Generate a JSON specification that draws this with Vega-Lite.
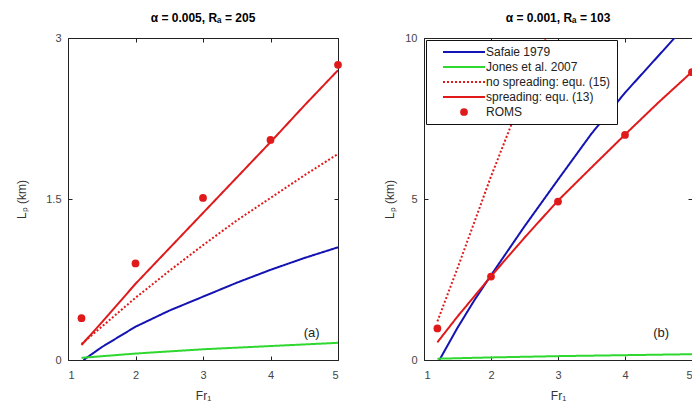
{
  "$schema": "https://vega.github.io/schema/vega-lite/v6.json",
  "padding": {"left": 15, "top": 12, "right": 0, "bottom": 4},
  "bounds": "flush",
  "spacing": 86,
  "resolve": {
    "scale": {"color": "independent", "strokeDash": "independent"},
    "legend": {"color": "independent", "strokeDash": "independent"}
  },
  "config": {
    "font": "Liberation Sans",
    "view": {"stroke": null},
    "title": {"font": "Liberation Sans", "fontSize": 12, "fontWeight": "bold", "color": "black", "offset": 7},
    "axis": {
      "grid": false,
      "domainColor": "#222",
      "domainWidth": 1,
      "tickColor": "#222",
      "tickSize": -4,
      "labelFont": "Liberation Sans",
      "labelFontSize": 11,
      "labelColor": "#444",
      "titleFont": "Liberation Sans",
      "titleFontSize": 12,
      "titleFontWeight": "normal",
      "titleColor": "#333"
    }
  },
  "datasets": {
    "curves": [
      {"panel": "a", "series": "Safaie 1979", "x": 1.23, "y": 0},
      {"panel": "a", "series": "Safaie 1979", "x": 1.5, "y": 0.12},
      {"panel": "a", "series": "Safaie 1979", "x": 2, "y": 0.31},
      {"panel": "a", "series": "Safaie 1979", "x": 2.5, "y": 0.46},
      {"panel": "a", "series": "Safaie 1979", "x": 3, "y": 0.59},
      {"panel": "a", "series": "Safaie 1979", "x": 3.5, "y": 0.72},
      {"panel": "a", "series": "Safaie 1979", "x": 4, "y": 0.84},
      {"panel": "a", "series": "Safaie 1979", "x": 4.5, "y": 0.95},
      {"panel": "a", "series": "Safaie 1979", "x": 5, "y": 1.05},
      {"panel": "a", "series": "Jones et al. 2007", "x": 1.2, "y": 0.02},
      {"panel": "a", "series": "Jones et al. 2007", "x": 2, "y": 0.06},
      {"panel": "a", "series": "Jones et al. 2007", "x": 3, "y": 0.1},
      {"panel": "a", "series": "Jones et al. 2007", "x": 4, "y": 0.13},
      {"panel": "a", "series": "Jones et al. 2007", "x": 5, "y": 0.16},
      {"panel": "a", "series": "no spreading: equ. (15)", "x": 1.2, "y": 0.15},
      {"panel": "a", "series": "no spreading: equ. (15)", "x": 1.5, "y": 0.31},
      {"panel": "a", "series": "no spreading: equ. (15)", "x": 2, "y": 0.58},
      {"panel": "a", "series": "no spreading: equ. (15)", "x": 2.5, "y": 0.83},
      {"panel": "a", "series": "no spreading: equ. (15)", "x": 3, "y": 1.07},
      {"panel": "a", "series": "no spreading: equ. (15)", "x": 3.5, "y": 1.3},
      {"panel": "a", "series": "no spreading: equ. (15)", "x": 4, "y": 1.51},
      {"panel": "a", "series": "no spreading: equ. (15)", "x": 4.5, "y": 1.72},
      {"panel": "a", "series": "no spreading: equ. (15)", "x": 5, "y": 1.92},
      {"panel": "a", "series": "spreading: equ. (13)", "x": 1.2, "y": 0.14},
      {"panel": "a", "series": "spreading: equ. (13)", "x": 1.5, "y": 0.35},
      {"panel": "a", "series": "spreading: equ. (13)", "x": 2, "y": 0.71},
      {"panel": "a", "series": "spreading: equ. (13)", "x": 2.5, "y": 1.04},
      {"panel": "a", "series": "spreading: equ. (13)", "x": 3, "y": 1.37},
      {"panel": "a", "series": "spreading: equ. (13)", "x": 3.5, "y": 1.7},
      {"panel": "a", "series": "spreading: equ. (13)", "x": 4, "y": 2.03},
      {"panel": "a", "series": "spreading: equ. (13)", "x": 4.5, "y": 2.37},
      {"panel": "a", "series": "spreading: equ. (13)", "x": 5, "y": 2.7},
      {"panel": "a", "series": "ROMS", "x": 1.2, "y": 0.39},
      {"panel": "a", "series": "ROMS", "x": 2, "y": 0.9},
      {"panel": "a", "series": "ROMS", "x": 3, "y": 1.51},
      {"panel": "a", "series": "ROMS", "x": 4, "y": 2.05},
      {"panel": "a", "series": "ROMS", "x": 5, "y": 2.75},
      {"panel": "b", "series": "Safaie 1979", "x": 1.23, "y": 0},
      {"panel": "b", "series": "Safaie 1979", "x": 1.5, "y": 1.0},
      {"panel": "b", "series": "Safaie 1979", "x": 1.75, "y": 1.85},
      {"panel": "b", "series": "Safaie 1979", "x": 2, "y": 2.63},
      {"panel": "b", "series": "Safaie 1979", "x": 2.5, "y": 4.15},
      {"panel": "b", "series": "Safaie 1979", "x": 3, "y": 5.6},
      {"panel": "b", "series": "Safaie 1979", "x": 3.5, "y": 7.03},
      {"panel": "b", "series": "Safaie 1979", "x": 4, "y": 8.3},
      {"panel": "b", "series": "Safaie 1979", "x": 4.5, "y": 9.45},
      {"panel": "b", "series": "Safaie 1979", "x": 5, "y": 10.6},
      {"panel": "b", "series": "Jones et al. 2007", "x": 1.2, "y": 0.04},
      {"panel": "b", "series": "Jones et al. 2007", "x": 2, "y": 0.08},
      {"panel": "b", "series": "Jones et al. 2007", "x": 3, "y": 0.12},
      {"panel": "b", "series": "Jones et al. 2007", "x": 4, "y": 0.15},
      {"panel": "b", "series": "Jones et al. 2007", "x": 5, "y": 0.18},
      {"panel": "b", "series": "no spreading: equ. (15)", "x": 1.2, "y": 1.2},
      {"panel": "b", "series": "no spreading: equ. (15)", "x": 1.5, "y": 2.85},
      {"panel": "b", "series": "no spreading: equ. (15)", "x": 2, "y": 5.7},
      {"panel": "b", "series": "no spreading: equ. (15)", "x": 2.5, "y": 8.35},
      {"panel": "b", "series": "no spreading: equ. (15)", "x": 3, "y": 10.9},
      {"panel": "b", "series": "spreading: equ. (13)", "x": 1.2, "y": 0.55},
      {"panel": "b", "series": "spreading: equ. (13)", "x": 1.5, "y": 1.35},
      {"panel": "b", "series": "spreading: equ. (13)", "x": 2, "y": 2.6},
      {"panel": "b", "series": "spreading: equ. (13)", "x": 2.5, "y": 3.8},
      {"panel": "b", "series": "spreading: equ. (13)", "x": 3, "y": 4.95},
      {"panel": "b", "series": "spreading: equ. (13)", "x": 3.5, "y": 5.98},
      {"panel": "b", "series": "spreading: equ. (13)", "x": 4, "y": 7.0},
      {"panel": "b", "series": "spreading: equ. (13)", "x": 4.5, "y": 8.0},
      {"panel": "b", "series": "spreading: equ. (13)", "x": 5, "y": 8.95},
      {"panel": "b", "series": "ROMS", "x": 1.2, "y": 0.98},
      {"panel": "b", "series": "ROMS", "x": 2, "y": 2.59},
      {"panel": "b", "series": "ROMS", "x": 3, "y": 4.92},
      {"panel": "b", "series": "ROMS", "x": 4, "y": 6.99},
      {"panel": "b", "series": "ROMS", "x": 5, "y": 8.94}
    ]
  },
  "hconcat": [
    {
      "width": 270,
      "height": 322,
      "title": {"text": "α = 0.005, Rₐ = 205"},
      "resolve": {"axis": {"x": "independent", "y": "independent"}},
      "layer": [
        {
          "data": {"name": "curves"},
          "transform": [{"filter": "datum.panel === 'a' && datum.series !== 'ROMS'"}],
          "mark": {"type": "line", "clip": true, "strokeWidth": 2},
          "encoding": {
            "x": {"field": "x", "type": "quantitative", "scale": {"domain": [1, 5], "nice": false},
                  "axis": {"orient": "bottom", "values": [1, 2, 3, 4, 5], "title": "Fr₁", "labelPadding": 13, "titlePadding": 10}},
            "y": {"field": "y", "type": "quantitative", "scale": {"domain": [0, 3], "nice": false},
                  "axis": {"orient": "left", "values": [0, 1.5, 3], "format": ".1~f", "title": "Lₚ (km)", "labelPadding": 11, "titlePadding": 17}},
            "color": {"field": "series", "type": "nominal",
                      "scale": {"domain": ["Safaie 1979", "Jones et al. 2007", "no spreading: equ. (15)", "spreading: equ. (13)", "ROMS"],
                                "range": ["#1414b4", "#2ed82e", "#e01a1a", "#e01a1a", "#e01a1a"]},
                      "legend": null},
            "strokeDash": {"field": "series", "type": "nominal",
                           "scale": {"domain": ["Safaie 1979", "Jones et al. 2007", "no spreading: equ. (15)", "spreading: equ. (13)", "ROMS"],
                                     "range": [[1, 0], [1, 0], [2, 2], [1, 0], [1, 0]]},
                           "legend": null}
          }
        },
        {
          "data": {"name": "curves"},
          "transform": [{"filter": "datum.panel === 'a' && datum.series === 'ROMS'"}],
          "mark": {"type": "circle", "size": 60, "opacity": 1},
          "encoding": {
            "x": {"field": "x", "type": "quantitative", "axis": {"orient": "top", "values": [1, 2, 3, 4, 5], "labels": false, "title": null}},
            "y": {"field": "y", "type": "quantitative", "axis": {"orient": "right", "values": [0, 1.5, 3], "labels": false, "title": null}},
            "color": {"field": "series", "type": "nominal", "legend": null}
          }
        },
        {
          "data": {"values": [{"x": 4.61, "y": 0.25, "label": "(a)"}]},
          "mark": {"type": "text", "fontSize": 13, "font": "Liberation Sans", "color": "#222"},
          "encoding": {
            "x": {"field": "x", "type": "quantitative", "axis": null},
            "y": {"field": "y", "type": "quantitative", "axis": null},
            "text": {"field": "label"}
          }
        }
      ]
    },
    {
      "width": 268,
      "height": 322,
      "title": {"text": "α = 0.001, Rₐ = 103"},
      "resolve": {"axis": {"x": "independent", "y": "independent"}},
      "layer": [
        {
          "data": {"name": "curves"},
          "transform": [{"filter": "datum.panel === 'b' && datum.series !== 'ROMS'"}],
          "mark": {"type": "line", "clip": true, "strokeWidth": 2},
          "encoding": {
            "x": {"field": "x", "type": "quantitative", "scale": {"domain": [1, 5], "nice": false},
                  "axis": {"orient": "bottom", "values": [1, 2, 3, 4, 5], "title": "Fr₁", "labelPadding": 13, "titlePadding": 10}},
            "y": {"field": "y", "type": "quantitative", "scale": {"domain": [0, 10], "nice": false},
                  "axis": {"orient": "left", "values": [0, 5, 10], "title": "Lₚ (km)", "labelPadding": 11, "titlePadding": 8}},
            "color": {"field": "series", "type": "nominal",
                      "scale": {"domain": ["Safaie 1979", "Jones et al. 2007", "no spreading: equ. (15)", "spreading: equ. (13)", "ROMS"],
                                "range": ["#1414b4", "#2ed82e", "#e01a1a", "#e01a1a", "#e01a1a"]},
                      "legend": {
                        "orient": "top-left",
                        "offset": 2,
                        "title": null,
                        "strokeColor": "#111",
                        "fillColor": "white",
                        "padding": 6,
                        "rowPadding": 3,
                        "symbolSize": 100,
                        "symbolOffset": 26,
                        "labelOffset": 16,
                        "labelFont": "Liberation Sans",
                        "labelFontSize": 12,
                        "labelColor": "#222",
                        "encode": {
                          "symbols": {
                            "update": {
                              "shape": {"signal": "datum.value === 'ROMS' ? 'circle' : 'M-4.2,0H4.2'"},
                              "size": {"signal": "datum.value === 'ROMS' ? 60 : 100"},
                              "strokeDash": {"signal": "datum.value === 'no spreading: equ. (15)' ? [2,2] : [1,0]"},
                              "strokeWidth": {"signal": "datum.value === 'ROMS' ? 0 : 2"},
                              "fill": {"signal": "datum.value === 'ROMS' ? '#e01a1a' : 'transparent'"},
                              "opacity": {"value": 1}
                            }
                          }
                        }
                      }},
            "strokeDash": {"field": "series", "type": "nominal",
                           "scale": {"domain": ["Safaie 1979", "Jones et al. 2007", "no spreading: equ. (15)", "spreading: equ. (13)", "ROMS"],
                                     "range": [[1, 0], [1, 0], [2, 2], [1, 0], [1, 0]]},
                           "legend": null}
          }
        },
        {
          "data": {"name": "curves"},
          "transform": [{"filter": "datum.panel === 'b' && datum.series === 'ROMS'"}],
          "mark": {"type": "circle", "size": 60, "opacity": 1},
          "encoding": {
            "x": {"field": "x", "type": "quantitative", "axis": {"orient": "top", "values": [1, 2, 3, 4, 5], "labels": false, "title": null}},
            "y": {"field": "y", "type": "quantitative", "axis": {"orient": "right", "values": [0, 5, 10], "labels": false, "title": null}},
            "color": {"field": "series", "type": "nominal"}
          }
        },
        {
          "data": {"values": [{"x": 4.54, "y": 0.83, "label": "(b)"}]},
          "mark": {"type": "text", "fontSize": 13, "font": "Liberation Sans", "color": "#222"},
          "encoding": {
            "x": {"field": "x", "type": "quantitative", "axis": null},
            "y": {"field": "y", "type": "quantitative", "axis": null},
            "text": {"field": "label"}
          }
        }
      ]
    }
  ]
}
